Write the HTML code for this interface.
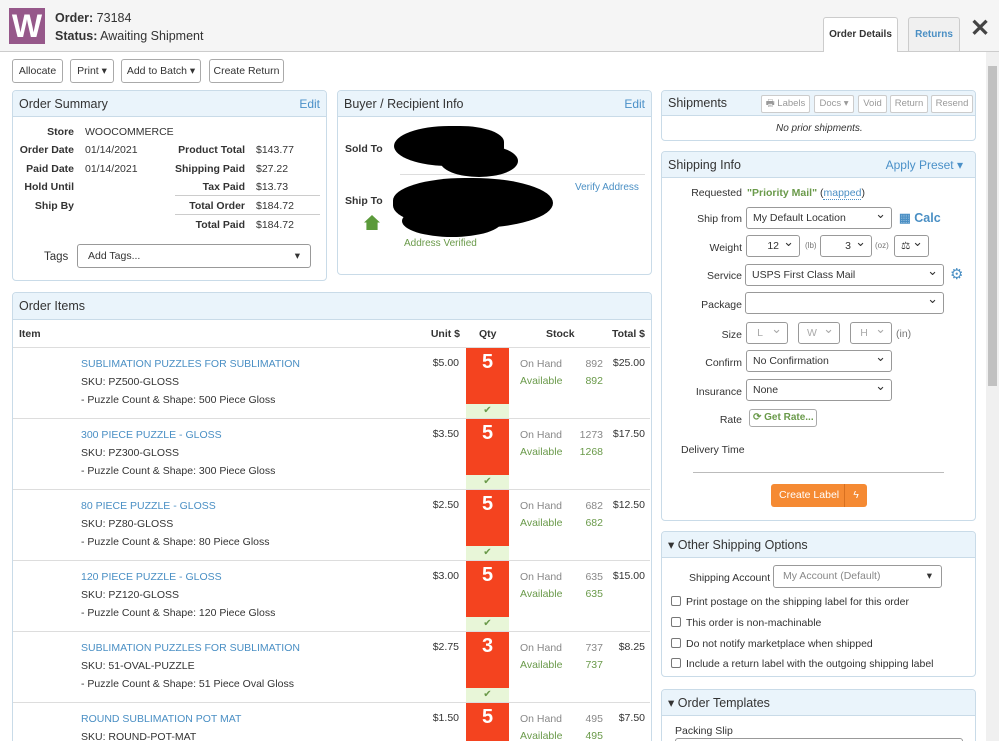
<!DOCTYPE html>
<html><head><meta charset="utf-8"><style>
*{box-sizing:border-box;margin:0;padding:0;white-space:nowrap}
html,body{width:999px;height:741px;overflow:hidden}
body{background:#fff;font-family:"Liberation Sans",sans-serif;font-size:10.5px;color:#333;position:relative}
.a{position:absolute}
.hdr{left:0;top:0;width:999px;height:52px;background:#f5f5f5;border-bottom:1px solid #ccc}
.btn{position:absolute;height:24px;border:1px solid #aaa;border-radius:3px;background:#fff;font-size:10.5px;line-height:22px;text-align:center;color:#333}
.panel{position:absolute;border:1px solid #c9dbe8;border-radius:4px;background:#fff;overflow:hidden}
.ph{height:26px;background:#eaf4fb;border-bottom:1px solid #c9dbe8;font-size:12.5px;line-height:26px;padding-left:6px;color:#333;position:relative}
.edit{position:absolute;right:6px;top:0;color:#4a90c8;font-size:12px}
.r{text-align:right}
.b{font-weight:bold}
.lnk{color:#4a8fc4}
.sel{position:absolute;height:22px;border:1px solid #999;border-radius:3px;background:#fff;font-size:10.5px;line-height:20px;padding-left:6px}
.sel:after{content:"⌄";position:absolute;right:5px;top:-4px;font-size:13px}
.gr{color:#6a9a4a}
.sb{position:absolute;height:18px;border:1px solid #ccc;border-radius:2px;font-size:9.5px;line-height:16px;color:#999;text-align:center;background:#fff}
.cb{position:absolute;width:10px;height:10px;border:1px solid #777;border-radius:2px}
.row{position:absolute;left:13px;width:637px;height:71px;border-top:1px solid #ddd}
.qty{position:absolute;left:453px;top:0;width:43px;height:56px;background:#f4431f;color:#fff;font-size:20px;font-weight:bold;text-align:center;line-height:28px}
.chk{position:absolute;left:453px;top:56px;width:43px;height:14px;background:#e8f6d8;color:#6a9a4a;text-align:center;font-size:10px;line-height:14px}
</style></head><body>
<div class="a hdr"></div>
<div class="a" style="left:9px;top:8px;width:36px;height:36px;background:#96588a;color:#fff;font-size:32px;font-weight:bold;text-align:center;line-height:36px">W</div>
<div class="a" style="left:55px;top:11px;font-size:12.5px"><b>Order:</b> 73184</div>
<div class="a" style="left:55px;top:29px;font-size:12.5px"><b>Status:</b> Awaiting Shipment</div>
<div class="a" style="left:823px;top:17px;width:75px;height:35px;background:#fff;border:1px solid #ccc;border-bottom:none;border-radius:3px 3px 0 0;font-weight:bold;font-size:10px;text-align:center;line-height:34px">Order Details</div>
<div class="a" style="left:908px;top:17px;width:52px;height:34px;background:#f0f0f0;border:1px solid #ccc;border-bottom:none;border-radius:3px 3px 0 0;font-weight:bold;font-size:10px;color:#4a8fc4;text-align:center;line-height:34px">Returns</div>
<div class="a" style="left:970px;top:14px;font-size:24px;font-weight:bold;color:#444">✕</div>
<div class="a" style="left:986px;top:52px;width:13px;height:689px;background:#f0f0f0"></div>
<div class="a" style="left:988px;top:66px;width:9px;height:320px;background:#c1c1c1"></div>

<div class="btn" style="left:12px;top:59px;width:51px">Allocate</div>
<div class="btn" style="left:70px;top:59px;width:44px">Print ▾</div>
<div class="btn" style="left:121px;top:59px;width:80px">Add to Batch ▾</div>
<div class="btn" style="left:209px;top:59px;width:75px">Create Return</div>

<div class="panel" style="left:12px;top:90px;width:315px;height:191px"><div class="ph">Order Summary<span class="edit">Edit</span></div></div>
<div class="a r b" style="left:10px;top:126px;width:64px">Store</div><div class="a" style="left:85px;top:126px">WOOCOMMERCE</div>
<div class="a r b" style="left:10px;top:144px;width:64px">Order Date</div><div class="a" style="left:85px;top:144px">01/14/2021</div>
<div class="a r b" style="left:10px;top:163px;width:64px">Paid Date</div><div class="a" style="left:85px;top:163px">01/14/2021</div>
<div class="a r b" style="left:10px;top:181px;width:64px">Hold Until</div>
<div class="a r b" style="left:10px;top:200px;width:64px">Ship By</div>
<div class="a r b" style="left:150px;top:144px;width:95px">Product Total</div><div class="a" style="left:256px;top:144px">$143.77</div>
<div class="a r b" style="left:150px;top:163px;width:95px">Shipping Paid</div><div class="a" style="left:256px;top:163px">$27.22</div>
<div class="a r b" style="left:150px;top:181px;width:95px">Tax Paid</div><div class="a" style="left:256px;top:181px">$13.73</div>
<div class="a" style="left:175px;top:195px;width:145px;border-top:1px solid #ccc"></div>
<div class="a r b" style="left:150px;top:200px;width:95px">Total Order</div><div class="a" style="left:256px;top:200px">$184.72</div>
<div class="a" style="left:175px;top:214px;width:145px;border-top:1px solid #ccc"></div>
<div class="a r b" style="left:150px;top:219px;width:95px">Total Paid</div><div class="a" style="left:256px;top:219px">$184.72</div>
<div class="a" style="left:44px;top:251px;font-size:11.5px">Tags</div>
<div class="a" style="left:77px;top:244px;width:234px;height:24px;border:1px solid #999;border-radius:3px;line-height:22px;padding-left:10px">Add Tags...<span style="position:absolute;right:10px">▾</span></div>

<div class="panel" style="left:337px;top:90px;width:315px;height:185px"><div class="ph">Buyer / Recipient Info<span class="edit">Edit</span></div></div>
<div class="a b" style="left:345px;top:143px">Sold To</div>
<div class="a b" style="left:345px;top:195px">Ship To</div>
<div class="a" style="left:400px;top:174px;width:245px;border-top:1px solid #ddd"></div>
<div class="a" style="left:394px;top:126px;width:110px;height:40px;background:#000;border-radius:50% 40% 45% 50%"></div>
<div class="a" style="left:440px;top:145px;width:78px;height:32px;background:#000;border-radius:50%"></div>
<div class="a" style="left:393px;top:178px;width:160px;height:50px;background:#000;border-radius:45% 50% 50% 45%"></div>
<div class="a" style="left:402px;top:205px;width:100px;height:32px;background:#000;border-radius:50%"></div>
<div class="a" style="left:364px;top:215px;width:16px;height:15px;background:#5b9a3a;clip-path:polygon(50% 0,100% 50%,85% 50%,85% 100%,15% 100%,15% 50%,0 50%)"></div>
<div class="a lnk" style="left:575px;top:182px;font-size:10px">Verify Address</div>
<div class="a gr" style="left:404px;top:238px;font-size:10px">Address Verified</div>

<div class="panel" style="left:12px;top:292px;width:640px;height:460px"><div class="ph" style="height:27px;line-height:27px">Order Items</div></div>
<div class="a b" style="left:19px;top:328px">Item</div>
<div class="a b r" style="left:410px;top:328px;width:50px">Unit $</div>
<div class="a b" style="left:479px;top:328px">Qty</div>
<div class="a b" style="left:546px;top:328px">Stock</div>
<div class="a b r" style="left:595px;top:328px;width:50px">Total $</div>

<div class="row" style="top:347px"><div class="a lnk" style="left:68px;top:10px">SUBLIMATION PUZZLES FOR SUBLIMATION</div><div class="a" style="left:68px;top:28px">SKU: PZ500-GLOSS</div><div class="a" style="left:68px;top:46px">- Puzzle Count &amp; Shape: 500 Piece Gloss</div><div class="a r" style="left:400px;top:9px;width:46px">$5.00</div><div class="qty">5</div><div class="chk">✔</div><div class="a" style="left:507px;top:10px;color:#888">On Hand</div><div class="a r" style="left:560px;top:10px;width:30px;color:#888">892</div><div class="a gr" style="left:507px;top:27px">Available</div><div class="a r gr" style="left:560px;top:27px;width:30px">892</div><div class="a r" style="left:580px;top:9px;width:52px">$25.00</div></div>
<div class="row" style="top:418px"><div class="a lnk" style="left:68px;top:10px">300 PIECE PUZZLE - GLOSS</div><div class="a" style="left:68px;top:28px">SKU: PZ300-GLOSS</div><div class="a" style="left:68px;top:46px">- Puzzle Count &amp; Shape: 300 Piece Gloss</div><div class="a r" style="left:400px;top:9px;width:46px">$3.50</div><div class="qty">5</div><div class="chk">✔</div><div class="a" style="left:507px;top:10px;color:#888">On Hand</div><div class="a r" style="left:560px;top:10px;width:30px;color:#888">1273</div><div class="a gr" style="left:507px;top:27px">Available</div><div class="a r gr" style="left:560px;top:27px;width:30px">1268</div><div class="a r" style="left:580px;top:9px;width:52px">$17.50</div></div>
<div class="row" style="top:489px"><div class="a lnk" style="left:68px;top:10px">80 PIECE PUZZLE - GLOSS</div><div class="a" style="left:68px;top:28px">SKU: PZ80-GLOSS</div><div class="a" style="left:68px;top:46px">- Puzzle Count &amp; Shape: 80 Piece Gloss</div><div class="a r" style="left:400px;top:9px;width:46px">$2.50</div><div class="qty">5</div><div class="chk">✔</div><div class="a" style="left:507px;top:10px;color:#888">On Hand</div><div class="a r" style="left:560px;top:10px;width:30px;color:#888">682</div><div class="a gr" style="left:507px;top:27px">Available</div><div class="a r gr" style="left:560px;top:27px;width:30px">682</div><div class="a r" style="left:580px;top:9px;width:52px">$12.50</div></div>
<div class="row" style="top:560px"><div class="a lnk" style="left:68px;top:10px">120 PIECE PUZZLE - GLOSS</div><div class="a" style="left:68px;top:28px">SKU: PZ120-GLOSS</div><div class="a" style="left:68px;top:46px">- Puzzle Count &amp; Shape: 120 Piece Gloss</div><div class="a r" style="left:400px;top:9px;width:46px">$3.00</div><div class="qty">5</div><div class="chk">✔</div><div class="a" style="left:507px;top:10px;color:#888">On Hand</div><div class="a r" style="left:560px;top:10px;width:30px;color:#888">635</div><div class="a gr" style="left:507px;top:27px">Available</div><div class="a r gr" style="left:560px;top:27px;width:30px">635</div><div class="a r" style="left:580px;top:9px;width:52px">$15.00</div></div>
<div class="row" style="top:631px"><div class="a lnk" style="left:68px;top:10px">SUBLIMATION PUZZLES FOR SUBLIMATION</div><div class="a" style="left:68px;top:28px">SKU: 51-OVAL-PUZZLE</div><div class="a" style="left:68px;top:46px">- Puzzle Count &amp; Shape: 51 Piece Oval Gloss</div><div class="a r" style="left:400px;top:9px;width:46px">$2.75</div><div class="qty">3</div><div class="chk">✔</div><div class="a" style="left:507px;top:10px;color:#888">On Hand</div><div class="a r" style="left:560px;top:10px;width:30px;color:#888">737</div><div class="a gr" style="left:507px;top:27px">Available</div><div class="a r gr" style="left:560px;top:27px;width:30px">737</div><div class="a r" style="left:580px;top:9px;width:52px">$8.25</div></div>
<div class="row" style="top:702px"><div class="a lnk" style="left:68px;top:10px">ROUND SUBLIMATION POT MAT</div><div class="a" style="left:68px;top:28px">SKU: ROUND-POT-MAT</div><div class="a r" style="left:400px;top:9px;width:46px">$1.50</div><div class="qty">5</div><div class="a" style="left:507px;top:10px;color:#888">On Hand</div><div class="a r" style="left:560px;top:10px;width:30px;color:#888">495</div><div class="a gr" style="left:507px;top:27px">Available</div><div class="a r gr" style="left:560px;top:27px;width:30px">495</div><div class="a r" style="left:580px;top:9px;width:52px">$7.50</div></div>

<div class="panel" style="left:661px;top:90px;width:315px;height:51px"><div class="ph" style="height:25px;line-height:24px">Shipments</div></div>
<div class="sb" style="left:761px;top:95px;width:49px">🖶 Labels</div>
<div class="sb" style="left:814px;top:95px;width:40px">Docs ▾</div>
<div class="sb" style="left:858px;top:95px;width:29px">Void</div>
<div class="sb" style="left:890px;top:95px;width:38px">Return</div>
<div class="sb" style="left:931px;top:95px;width:42px">Resend</div>
<div class="a" style="left:776px;top:123px;font-style:italic;font-size:10px">No prior shipments.</div>

<div class="panel" style="left:661px;top:151px;width:315px;height:370px"><div class="ph">Shipping Info<span class="edit" style="right:12px">Apply Preset ▾</span></div></div>
<div class="a r" style="left:650px;top:187px;width:92px">Requested</div><div class="a" style="left:747px;top:187px"><b class="gr">"Priority Mail"</b> (<span class="lnk" style="border-bottom:1px dotted #4a8fc4">mapped</span>)</div>
<div class="a r" style="left:650px;top:213px;width:92px">Ship from</div><div class="sel" style="left:746px;top:207px;width:146px">My Default Location</div>
<div class="a lnk b" style="left:899px;top:210px;font-size:12.5px">▦ Calc</div>
<div class="a r" style="left:650px;top:242px;width:92px">Weight</div>
<div class="sel" style="left:746px;top:235px;width:54px;text-align:right;padding-right:20px">12</div><div class="a" style="left:805px;top:241px;font-size:8px;color:#777">(lb)</div>
<div class="sel" style="left:820px;top:235px;width:52px;text-align:right;padding-right:20px">3</div><div class="a" style="left:875px;top:241px;font-size:8px;color:#777">(oz)</div>
<div class="sel" style="left:894px;top:235px;width:35px">⚖</div>
<div class="a r" style="left:650px;top:270px;width:92px">Service</div><div class="sel" style="left:745px;top:264px;width:199px">USPS First Class Mail</div>
<div class="a lnk" style="left:950px;top:265px;font-size:15px">⚙</div>
<div class="a r" style="left:650px;top:299px;width:92px">Package</div><div class="sel" style="left:745px;top:292px;width:199px"></div>
<div class="a r" style="left:650px;top:329px;width:92px">Size</div>
<div class="sel" style="left:746px;top:322px;width:42px;color:#aaa;text-align:center;padding:0 14px 0 0">L</div>
<div class="sel" style="left:798px;top:322px;width:42px;color:#aaa;text-align:center;padding:0 14px 0 0">W</div>
<div class="sel" style="left:850px;top:322px;width:42px;color:#aaa;text-align:center;padding:0 14px 0 0">H</div>
<div class="a" style="left:896px;top:328px;color:#777">(in)</div>
<div class="a r" style="left:650px;top:357px;width:92px">Confirm</div><div class="sel" style="left:746px;top:350px;width:146px">No Confirmation</div>
<div class="a r" style="left:650px;top:386px;width:92px">Insurance</div><div class="sel" style="left:746px;top:379px;width:146px">None</div>
<div class="a r" style="left:650px;top:414px;width:92px">Rate</div>
<div class="a b gr" style="left:749px;top:409px;width:68px;height:18px;border:1px solid #aaa;border-radius:3px;line-height:16px;padding-left:3px;font-size:10px">⟳ Get Rate...</div>
<div class="a" style="left:681px;top:444px">Delivery Time</div>
<div class="a" style="left:693px;top:472px;width:251px;border-top:1px solid #bbb"></div>
<div class="a" style="left:771px;top:484px;width:96px;height:23px;background:#f58a33;border-radius:3px;color:#fff;line-height:23px;font-size:10.5px"><span style="position:absolute;left:8px">Create Label</span><span style="position:absolute;left:73px;top:0;width:23px;height:23px;border-left:1px solid #d87020;text-align:center">ϟ</span></div>

<div class="panel" style="left:661px;top:531px;width:315px;height:146px"><div class="ph">▾ Other Shipping Options</div></div>
<div class="a" style="left:689px;top:572px">Shipping Account</div>
<div class="a" style="left:773px;top:565px;width:169px;height:23px;border:1px solid #999;border-radius:3px;line-height:21px;color:#888;padding-left:9px">My Account (Default)<span style="position:absolute;right:9px;color:#333">▾</span></div>
<div class="cb" style="left:671px;top:596px"></div><div class="a" style="left:686px;top:596px">Print postage on the shipping label for this order</div>
<div class="cb" style="left:671px;top:617px"></div><div class="a" style="left:686px;top:617px">This order is non-machinable</div>
<div class="cb" style="left:671px;top:638px"></div><div class="a" style="left:686px;top:638px">Do not notify marketplace when shipped</div>
<div class="cb" style="left:671px;top:658px"></div><div class="a" style="left:686px;top:658px">Include a return label with the outgoing shipping label</div>

<div class="panel" style="left:661px;top:689px;width:315px;height:70px"><div class="ph">▾ Order Templates</div></div>
<div class="a" style="left:675px;top:725px">Packing Slip</div>
<div class="a" style="left:675px;top:738px;width:288px;height:10px;border:1px solid #999;border-radius:3px"></div>
</body></html>
